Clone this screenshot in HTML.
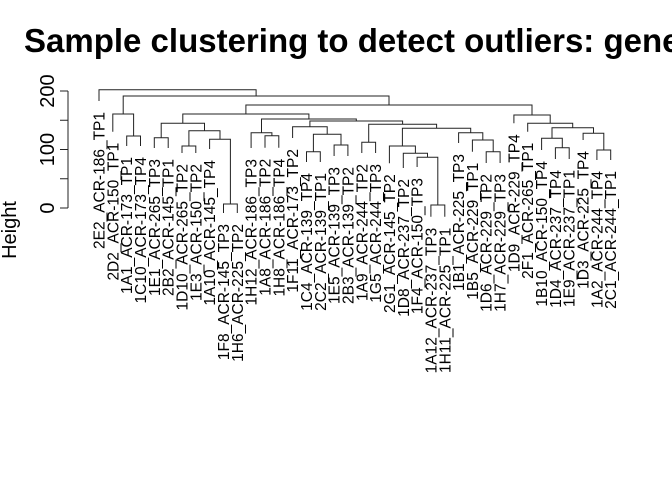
<!DOCTYPE html>
<html><head><meta charset="utf-8"><style>
html,body{margin:0;padding:0;background:#fff;}
svg{display:block;}
</style></head><body>
<svg width="672" height="480" viewBox="0 0 672 480" xmlns="http://www.w3.org/2000/svg">
<text x="24" y="52" font-family="Liberation Sans, sans-serif" font-size="33" font-weight="bold" fill="#000">Sample clustering to detect outliers: genes</text>
<g stroke="#222" stroke-width="1" fill="none">
<path d="M68 91V208M68 208H60M68 178.75H60M68 149.5H60M68 120.25H60M68 91H60"/>
<path d="M126.7 146V136H140.5V146"/>
<path d="M112.8 131.7V114H133.6V136"/>
<path d="M154.3 148V137.7H168.2V148"/>
<path d="M182 153V146H195.8V153"/>
<path d="M223.5 213V204H237.3V213"/>
<path d="M209.6 149V139.3H230.4V204"/>
<path d="M188.9 146V130.7H220V139.3"/>
<path d="M161.2 137.7V123.3H204.5V130.7"/>
<path d="M265 147.7V135.7H278.8V147.7"/>
<path d="M251.1 148V132.7H271.9V135.7"/>
<path d="M306.5 162V151.7H320.3V162"/>
<path d="M334.1 156V145H347.9V156"/>
<path d="M313.4 151.7V134.3H341V145"/>
<path d="M292.6 138V126.7H327.2V134.3"/>
<path d="M361.8 153V142.3H375.6V153"/>
<path d="M430.9 216.7V205H444.8V216.7"/>
<path d="M417.1 167V157.3H437.8V205"/>
<path d="M403.3 168V153.3H427.5V157.3"/>
<path d="M389.4 163.3V146H415.4V153.3"/>
<path d="M486.2 163V151.7H500.1V163"/>
<path d="M472.4 151.7V140H493.2V151.7"/>
<path d="M458.6 143V132.7H482.8V140"/>
<path d="M402.4 146V128.3H470.7V132.7"/>
<path d="M368.7 142.3V124.3H436.6V128.3"/>
<path d="M309.9 126.7V121H402.6V124.3"/>
<path d="M261.5 132.7V119H356.3V121"/>
<path d="M182.8 123.3V114H308.9V119"/>
<path d="M555.4 159V147.7H569.2V159"/>
<path d="M541.6 150V138.3H562.3V147.7"/>
<path d="M596.9 160V150H610.7V160"/>
<path d="M583.1 140V133.3H603.8V150"/>
<path d="M552 138.3V127.7H593.5V133.3"/>
<path d="M527.7 131.7V123.3H572.7V127.7"/>
<path d="M513.9 123.3V115H550.2V123.3"/>
<path d="M245.9 114V105H532V115"/>
<path d="M123.2 114V96H389V105"/>
<path d="M99 101V89.7H256.1V96"/>
</g>
<g font-family="Liberation Sans, sans-serif" font-size="20" fill="#000" text-anchor="middle">
<text transform="translate(54,208) rotate(-90)">0</text>
<text transform="translate(54,149.5) rotate(-90)">100</text>
<text transform="translate(54,91) rotate(-90)">200</text>
<text transform="translate(16,230) rotate(-90)">Height</text>
</g>
<g font-family="Liberation Sans, sans-serif" font-size="15.5" fill="#000" text-anchor="end">
<text transform="translate(104.5,112) rotate(-90)">2E2_ACR-186_TP1</text>
<text transform="translate(118.3,142.7) rotate(-90)">2D2_ACR-150_TP1</text>
<text transform="translate(132.2,157) rotate(-90)">1A1_ACR-173_TP1</text>
<text transform="translate(146,157) rotate(-90)">1C10_ACR-173_TP4</text>
<text transform="translate(159.8,159) rotate(-90)">1E1_ACR-265_TP3</text>
<text transform="translate(173.7,159) rotate(-90)">2B2_ACR-145_TP1</text>
<text transform="translate(187.5,164) rotate(-90)">1D10_ACR-265_TP2</text>
<text transform="translate(201.3,164) rotate(-90)">1E3_ACR-150_TP2</text>
<text transform="translate(215.1,160) rotate(-90)">1A10_ACR-145_TP4</text>
<text transform="translate(229,224) rotate(-90)">1F8_ACR-145_TP3</text>
<text transform="translate(242.8,224) rotate(-90)">1H6_ACR-225_TP2</text>
<text transform="translate(256.6,159) rotate(-90)">1H12_ACR-186_TP3</text>
<text transform="translate(270.5,158.7) rotate(-90)">1A8_ACR-186_TP2</text>
<text transform="translate(284.3,158.7) rotate(-90)">1H8_ACR-186_TP4</text>
<text transform="translate(298.1,149) rotate(-90)">1F11_ACR-173_TP2</text>
<text transform="translate(312,173) rotate(-90)">1C4_ACR-139_TP4</text>
<text transform="translate(325.8,173) rotate(-90)">2C2_ACR-139_TP1</text>
<text transform="translate(339.6,167) rotate(-90)">1E5_ACR-139_TP3</text>
<text transform="translate(353.4,167) rotate(-90)">2B3_ACR-139_TP2</text>
<text transform="translate(367.3,164) rotate(-90)">1A9_ACR-244_TP2</text>
<text transform="translate(381.1,164) rotate(-90)">1G5_ACR-244_TP3</text>
<text transform="translate(394.9,174.3) rotate(-90)">2G1_ACR-145_TP2</text>
<text transform="translate(408.8,179) rotate(-90)">1D8_ACR-237_TP2</text>
<text transform="translate(422.6,178) rotate(-90)">1F4_ACR-150_TP3</text>
<text transform="translate(436.4,227.7) rotate(-90)">1A12_ACR-237_TP3</text>
<text transform="translate(450.3,227.7) rotate(-90)">1H11_ACR-225_TP1</text>
<text transform="translate(464.1,154) rotate(-90)">1B1_ACR-225_TP3</text>
<text transform="translate(477.9,162.7) rotate(-90)">1B5_ACR-229_TP1</text>
<text transform="translate(491.7,174) rotate(-90)">1D6_ACR-229_TP2</text>
<text transform="translate(505.6,174) rotate(-90)">1H7_ACR-229_TP3</text>
<text transform="translate(519.4,134.3) rotate(-90)">1D9_ACR-229_TP4</text>
<text transform="translate(533.2,142.7) rotate(-90)">2F1_ACR-265_TP1</text>
<text transform="translate(547.1,161) rotate(-90)">1B10_ACR-150_TP4</text>
<text transform="translate(560.9,170) rotate(-90)">1D4_ACR-237_TP4</text>
<text transform="translate(574.7,170) rotate(-90)">1E9_ACR-237_TP1</text>
<text transform="translate(588.6,151) rotate(-90)">1D3_ACR-225_TP4</text>
<text transform="translate(602.4,171) rotate(-90)">1A2_ACR-244_TP4</text>
<text transform="translate(616.2,171) rotate(-90)">2C1_ACR-244_TP1</text>
</g>
</svg>
</body></html>
